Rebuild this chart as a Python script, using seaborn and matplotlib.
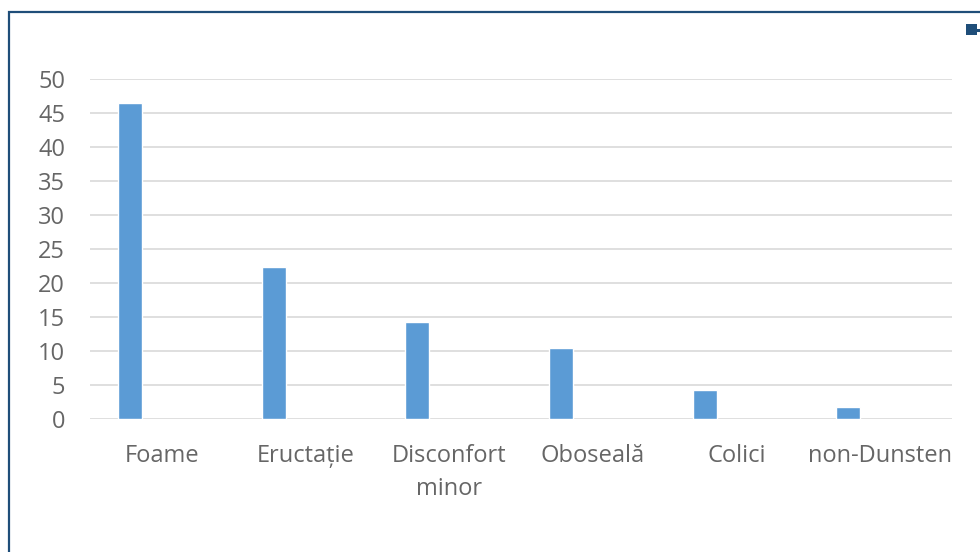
import matplotlib
matplotlib.use("Agg")
import matplotlib.pyplot as plt
from matplotlib.patches import Rectangle
from matplotlib.lines import Line2D
import numpy as np
import pandas as pd
import seaborn as sns

# Symptom categories and the share reported for each
categories = ["Foame", "Eructație", "Disconfort\nminor", "Oboseală", "Colici", "non-Dunsten"]
values = [46.5, 22.4, 14.3, 10.5, 4.3, 1.8]
series_names = ["Seria 1", "Seria 2"]
yticks = [0, 5, 10, 15, 20, 25, 30, 35, 40, 45, 50]

bar_color = "#5B9BD5"
accent = "#1F4E79"
text_color = "#666666"
grid_color = "#D9D9D9"

df = pd.DataFrame({
    "categorie": categories * 2,
    "valoare": values + [np.nan] * len(values),
    "serie": [series_names[0]] * len(categories) + [series_names[1]] * len(categories),
})

sns.set_theme(style="white")
plt.rcParams["font.family"] = ["Open Sans", "DejaVu Sans"]

fig = plt.figure(figsize=(9.8, 5.52), dpi=100)
ax = fig.add_axes([90 / 980, 1 - 419 / 552, (952 - 90) / 980, (419 - 79) / 552])

sns.barplot(data=df, x="categorie", y="valoare", hue="serie",
            palette={series_names[0]: bar_color, series_names[1]: accent},
            width=0.89, gap=0.625, ax=ax, legend=False, saturation=1)

ax.set_ylim(0, 50)
ax.set_yticks(yticks)
ax.set_yticklabels([str(t) for t in yticks])
ax.set_xlim(-0.5, len(categories) - 0.5)
ax.yaxis.grid(True, color=grid_color, linewidth=1.2)
ax.set_axisbelow(True)
for s in ax.spines.values():
    s.set_visible(False)
ax.set_xlabel("")
ax.set_ylabel("")
ax.tick_params(axis="y", length=0, pad=18, labelsize=17, labelcolor=text_color)
ax.tick_params(axis="x", length=0, pad=18, labelsize=17, labelcolor=text_color)
for lbl in ax.get_xticklabels():
    lbl.set_linespacing(1.5)

# Chart frame and clipped legend key
fig.add_artist(Rectangle((9 / 980, -0.1), 1.2, 1 - 12 / 552 + 0.1,
                         transform=fig.transFigure, fill=False,
                         edgecolor=accent, linewidth=1.6))
fig.add_artist(Line2D([971 / 980, 1.0], [1 - 29.5 / 552] * 2,
                      transform=fig.transFigure, color=accent, linewidth=2.2))
fig.add_artist(Rectangle((966 / 980, 1 - 35 / 552), 11 / 980, 11 / 552,
                         transform=fig.transFigure, facecolor=accent, edgecolor="none"))

fig.savefig("out.png", dpi=100)
